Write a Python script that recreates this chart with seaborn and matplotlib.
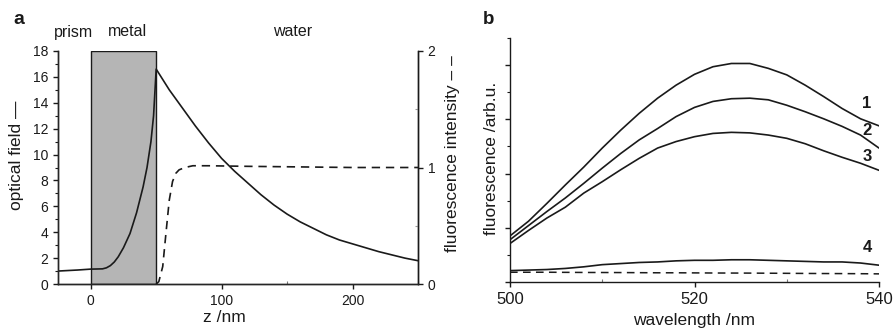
import numpy as np
import pandas as pd
import matplotlib
matplotlib.use("Agg")
import matplotlib.pyplot as plt
from matplotlib.ticker import MultipleLocator
import seaborn as sns

# ---------------- data: panel a ----------------
z_field = [-25, -10, 0, 5, 9, 12, 15, 18, 21, 25, 30, 35, 40, 43, 46, 48, 50,
           55, 60, 70, 80, 90, 100, 110, 120, 130, 140, 150, 160, 170, 180,
           190, 200, 210, 220, 230, 240, 250]
optical_field = [1.0, 1.08, 1.15, 1.16, 1.17, 1.25, 1.42, 1.7, 2.1, 2.8, 3.9, 5.5,
                 7.5, 9.0, 11.0, 13.0, 16.6,
                 15.8, 15.0, 13.6, 12.2, 10.9, 9.7, 8.7, 7.8, 6.9, 6.1, 5.4,
                 4.8, 4.3, 3.8, 3.4, 3.1, 2.8, 2.5, 2.25, 2.0, 1.8]
z_fluo = [50, 52, 55, 57.5, 60, 62.5, 65, 67.5, 72, 78, 90, 120, 160, 200, 250]
fluo_intensity = [0.0, 0.02, 0.15, 0.44, 0.72, 0.88, 0.95, 0.98, 1.0, 1.015,
                  1.015, 1.01, 1.005, 1.0, 1.0]
region_labels = ["prism", "metal", "water"]

# ---------------- data: panel b ----------------
wavelength = [500, 502, 504, 506, 508, 510, 512, 514, 516, 518, 520, 522, 524,
              526, 528, 530, 532, 534, 536, 538, 540]
spec1 = [0.85, 1.12, 1.45, 1.79, 2.12, 2.47, 2.80, 3.11, 3.39, 3.63, 3.83, 3.97,
         4.03, 4.03, 3.94, 3.82, 3.63, 3.42, 3.20, 3.01, 2.88]
spec2 = [0.78, 1.04, 1.30, 1.55, 1.82, 2.10, 2.37, 2.62, 2.83, 3.05, 3.22, 3.33,
         3.38, 3.39, 3.36, 3.26, 3.14, 3.01, 2.87, 2.71, 2.47]
spec3 = [0.71, 0.95, 1.18, 1.38, 1.64, 1.85, 2.07, 2.28, 2.47, 2.59, 2.68, 2.74,
         2.76, 2.75, 2.71, 2.65, 2.55, 2.42, 2.30, 2.19, 2.06]
spec4 = [0.21, 0.22, 0.23, 0.25, 0.28, 0.32, 0.34, 0.36, 0.37, 0.39, 0.40, 0.40,
         0.41, 0.41, 0.40, 0.39, 0.38, 0.37, 0.37, 0.35, 0.31]
spec_bg = [0.18, 0.18, 0.18, 0.178, 0.176, 0.175, 0.174, 0.172, 0.17, 0.17, 0.168,
           0.166, 0.165, 0.164, 0.162, 0.16, 0.158, 0.156, 0.155, 0.153, 0.15]
curve_labels = ["1", "2", "3", "4"]
curve_label_y = [3.30, 2.80, 2.31, 0.63]

# ---------------- style ----------------
sns.set_style("ticks")
plt.rcParams["font.family"] = ["Liberation Sans", "DejaVu Sans"]
plt.rcParams["axes.linewidth"] = 1.0
LC = "#1a1a1a"
FS_A = 10      # tick labels panel a
FS_B = 12      # tick labels panel b
FS_LAB = 12.5  # axis labels

fig = plt.figure(figsize=(8.94, 3.29), dpi=100)
axa = fig.add_axes([58 / 894, 1 - 284 / 329, 360 / 894, 233 / 329])
axb = fig.add_axes([510 / 894, 1 - 282 / 329, 369 / 894, 244 / 329])

# ---------------- panel a ----------------
axa.axvspan(0, 50, ymin=0, ymax=1, facecolor="#b5b5b5", edgecolor=LC, lw=1.0, zorder=1)
df_field = pd.DataFrame({"z": z_field, "field": optical_field})
sns.lineplot(data=df_field, x="z", y="field", ax=axa, color=LC, lw=1.2, zorder=3)
axa.set_xlim(-25, 250)
axa.set_ylim(0, 18)
axa.xaxis.set_major_locator(MultipleLocator(100))
axa.xaxis.set_minor_locator(MultipleLocator(50))
axa.yaxis.set_major_locator(MultipleLocator(2))
axa.yaxis.set_minor_locator(MultipleLocator(1))
axa.tick_params(axis="both", which="major", direction="out", length=3.5, width=1,
                labelsize=FS_A, colors=LC)
axa.tick_params(axis="y", which="minor", direction="out", length=2, width=0.8, colors=LC)
axa.tick_params(axis="x", which="minor", direction="in", length=2.5, width=0.8, colors="#777777")
axa.set_xlabel("z /nm", fontsize=FS_LAB, color=LC)
axa.xaxis.set_label_coords((224 - 58) / 360, (284 - 318) / 233)
axa.xaxis.label.set_va("center")
axa.set_ylabel("optical field \u2014", fontsize=FS_LAB, color=LC)
axa.yaxis.set_label_coords((16.5 - 58) / 360, (284 - 155) / 233)
axa.yaxis.label.set_va("center")
axa.spines["top"].set_visible(False)
for s in ["left", "bottom", "right"]:
    axa.spines[s].set_color(LC)

axr = axa.twinx()
df_fluo = pd.DataFrame({"z": z_fluo, "fluo": fluo_intensity})
sns.lineplot(data=df_fluo, x="z", y="fluo", ax=axr, color=LC, lw=1.2, zorder=3)
axr.lines[0].set_dashes((5, 3.5))
axr.set_ylim(0, 2)
axr.set_xlim(-25, 250)
axr.yaxis.set_major_locator(MultipleLocator(1))
axr.yaxis.set_minor_locator(MultipleLocator(0.5))
axr.tick_params(axis="y", which="major", direction="out", length=3.5, width=1,
                labelsize=FS_A, colors=LC)
axr.tick_params(axis="y", which="minor", direction="in", length=2.5, width=0.8, colors="#999999")
axr.set_ylabel("fluorescence intensity \u2013 \u2013", fontsize=FS_LAB, color=LC)
axr.yaxis.set_label_coords((453 - 58) / 360, (284 - 154) / 233)
axr.yaxis.label.set_va("center")
axr.yaxis.label.set_rotation(90)
axr.spines["top"].set_visible(False)
axr.spines["right"].set_color(LC)
axr.set_xlabel("")

region_x = [73, 127, 293]
for lab, px in zip(region_labels, region_x):
    axa.text((px - 58) / 360, (284 - 32) / 233, lab, transform=axa.transAxes,
             ha="center", va="center", fontsize=11.5, color=LC)
fig.text(13 / 894, 1 - 20 / 329, "a", fontsize=14, fontweight="bold", va="center", ha="left", color=LC)

# ---------------- panel b ----------------
rows = []
for name, vals in zip(["1", "2", "3", "4"], [spec1, spec2, spec3, spec4]):
    for w, v in zip(wavelength, vals):
        rows.append({"wavelength": w, "value": v, "curve": name})
df_spec = pd.DataFrame(rows)
sns.lineplot(data=df_spec, x="wavelength", y="value", units="curve", estimator=None,
             ax=axb, color=LC, lw=1.2)
df_bg = pd.DataFrame({"wavelength": wavelength, "value": spec_bg})
sns.lineplot(data=df_bg, x="wavelength", y="value", ax=axb, color=LC, lw=1.1)
axb.lines[-1].set_dashes((5, 3.5))
for lab, yv in zip(curve_labels, curve_label_y):
    axb.text(538.7, yv, lab, fontsize=12, fontweight="bold", ha="center",
             va="center", color=LC)
axb.set_xlim(500, 540)
axb.set_ylim(0, 4.5)
axb.xaxis.set_major_locator(MultipleLocator(20))
axb.xaxis.set_minor_locator(MultipleLocator(10))
axb.yaxis.set_major_locator(MultipleLocator(1))
axb.yaxis.set_minor_locator(MultipleLocator(0.5))
axb.set_yticklabels([])
axb.tick_params(axis="x", which="major", direction="out", length=3.5, width=1,
                labelsize=FS_B, colors=LC)
axb.tick_params(axis="x", which="minor", direction="in", length=2.5, width=0.8, colors="#777777")
axb.tick_params(axis="y", which="major", direction="out", length=3.5, width=1, colors=LC)
axb.tick_params(axis="y", which="minor", direction="out", length=2, width=0.8, colors=LC)
axb.set_xlabel("wavelength /nm", fontsize=FS_LAB, color=LC)
axb.xaxis.set_label_coords(0.5, (282 - 320) / 244)
axb.xaxis.label.set_va("center")
axb.set_ylabel("fluorescence /arb.u.", fontsize=FS_LAB, color=LC)
axb.yaxis.set_label_coords((492 - 510) / 369, (282 - 158) / 244)
axb.yaxis.label.set_va("center")
sns.despine(ax=axb)
for s in ["left", "bottom"]:
    axb.spines[s].set_color(LC)
fig.text(483 / 894, 1 - 20 / 329, "b", fontsize=13.5, fontweight="bold", va="center", ha="left", color=LC)

fig.savefig("out.png", dpi=100)
